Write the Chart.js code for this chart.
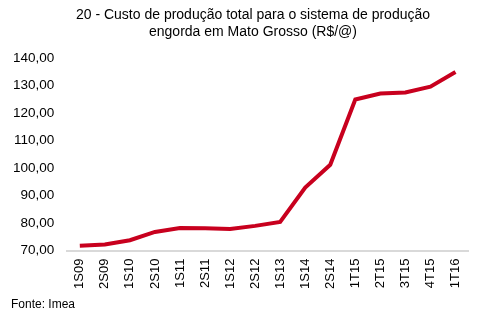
<!doctype html>
<html>
<head>
  <meta charset="utf-8" />
  <title>Custo de produção - Mato Grosso</title>
  <style>
    html, body { margin:0; padding:0; background:#fff; }
    .wrap { position:relative; width:494px; height:324px; font-family: Arial, "Liberation Sans", sans-serif; color:#000; }
    canvas { display:block; }
    .title { position:absolute; left:0; width:506px; top:6px; text-align:center; font-size:14px; line-height:17px; }
    .source { position:absolute; left:11px; top:297px; font-size:12px; }
  </style>
</head>
<body>
  <div class="wrap">
    <canvas id="chart" width="494" height="324"></canvas>
    <div class="title">20 - Custo de produção total para o sistema de produção<br>engorda em Mato Grosso (R$/@)</div>
    <div class="source">Fonte: Imea</div>
  </div>

  <script src="https://cdn.jsdelivr.net/npm/chart.js@4.4.1/dist/chart.umd.min.js"></script>
  <script>
    // periods (semesters / quarters)
    const periods = ['1S09','2S09','1S10','2S10','1S11','2S11','1S12','2S12','1S13','1S14','2S14','1T15','2T15','3T15','4T15','1T16'];
    // custo total, R$/@
    const custo = [71.8, 72.2, 73.8, 76.8, 78.2, 78.1, 77.9, 79.0, 80.4, 92.9, 101.2, 124.9, 127.1, 127.5, 129.6, 134.9];
    const yTicks = [70, 80, 90, 100, 110, 120, 130, 140];

    const font = 'Arial, "Liberation Sans", sans-serif';
    const ctx = document.getElementById('chart').getContext('2d');

    new Chart(ctx, {
      type: 'line',
      data: {
        labels: periods,
        datasets: [{
          data: custo,
          borderColor: '#c8001e',
          borderWidth: 4,
          pointRadius: 0,
          tension: 0,
          fill: false
        }]
      },
      options: {
        responsive: false,
        animation: false,
        layout: { padding: { left: 0, right: 26, top: 58, bottom: 27 } },
        plugins: {
          legend: { display: false },
          tooltip: { enabled: false },
          title: { display: false }
        },
        scales: {
          x: {
            offset: true,
            grid: { display: false, drawTicks: false },
            border: { display: true, color: '#d9d9d9', width: 2 },
            ticks: {
              color: '#000',
              font: { family: font, size: 13 },
              minRotation: 90,
              maxRotation: 90,
              autoSkip: false,
              padding: 8
            }
          },
          y: {
            min: yTicks[0],
            max: yTicks[yTicks.length - 1],
            grid: { display: false, drawTicks: false },
            border: { display: false },
            afterBuildTicks: (axis) => { axis.ticks = yTicks.map(v => ({ value: v })); },
            ticks: {
              color: '#000',
              font: { family: font, size: 13.5 },
              padding: 13,
              callback: (v) => Number(v).toFixed(2).replace('.', ',')
            }
          }
        }
      }
    });
  </script>
</body>
</html>
